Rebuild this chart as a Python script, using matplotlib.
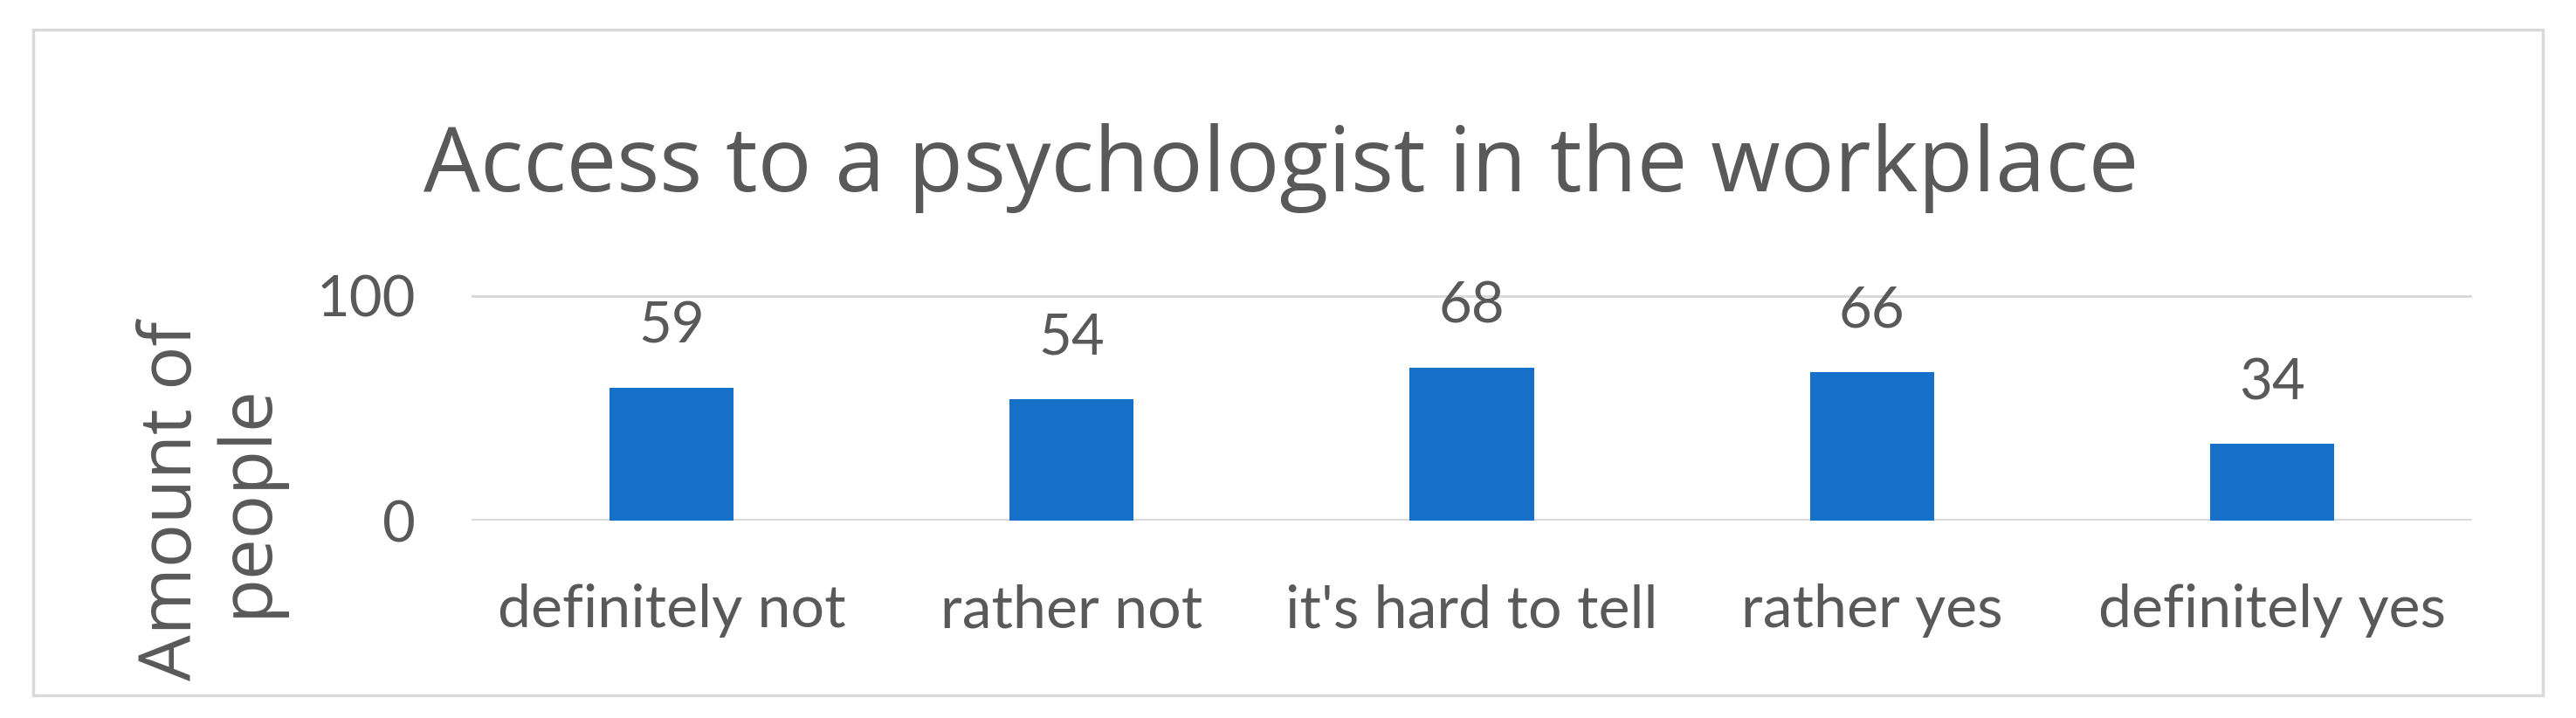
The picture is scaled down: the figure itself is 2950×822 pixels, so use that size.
import matplotlib
matplotlib.use("Agg")
import matplotlib.pyplot as plt
from matplotlib.patches import Rectangle

categories = ["definitely not", "rather not", "it's hard to tell", "rather yes", "definitely yes"]
counts = [59, 54, 68, 66, 34]
yticks = [0, 100]

BAR = "#1670c8"
GRID = "#d9d9d9"
TEXT = "#595959"

fig = plt.figure(figsize=(29.5, 8.22), dpi=100)
fig.patch.set_facecolor("white")

# light frame round the whole chart
fig.patches.append(Rectangle((38 / 2950, 1 - 796 / 822), (2912 - 38) / 2950, (796 - 34) / 822,
                             transform=fig.transFigure, fill=False, edgecolor=GRID, linewidth=2.5))

ax = fig.add_axes([540 / 2950, 1 - 596 / 822, (2831 - 540) / 2950, (596 - 338) / 822])
x = range(len(categories))
ax.bar(x, counts, width=0.31, color=BAR, zorder=3)
ax.set_xlim(-0.5, len(categories) - 0.5)
ax.set_ylim(0, 100)
ax.set_yticks(yticks)
ax.set_xticks(list(x))
ax.set_xticklabels(categories, fontsize=49, color=TEXT, family="Lato")
ax.set_yticklabels([str(t) for t in yticks], fontsize=47, color=TEXT, family="Lato")
ax.tick_params(length=0)
ax.tick_params(axis="x", pad=52)
ax.tick_params(axis="y", pad=46)
for s in ax.spines.values():
    s.set_visible(False)
ax.grid(axis="y", color=GRID, linewidth=3.5, zorder=0)

for xi, v in zip(x, counts):
    ax.annotate(str(v), (xi, v), xytext=(0, 50), textcoords="offset points",
                ha="center", va="center", fontsize=47, color=TEXT, family="Lato")

fig.text(1467 / 2950, 1 - 192 / 822, "Access to a psychologist in the workplace",
         ha="center", va="center", fontsize=74, color=TEXT, family="Open Sans")
fig.text(241 / 2950, 1 - 573 / 822, "Amount of\npeople", rotation=90,
         ha="center", va="center", fontsize=60, color=TEXT, family="Open Sans",
         linespacing=1.05)

fig.savefig("out.png", dpi=100)
